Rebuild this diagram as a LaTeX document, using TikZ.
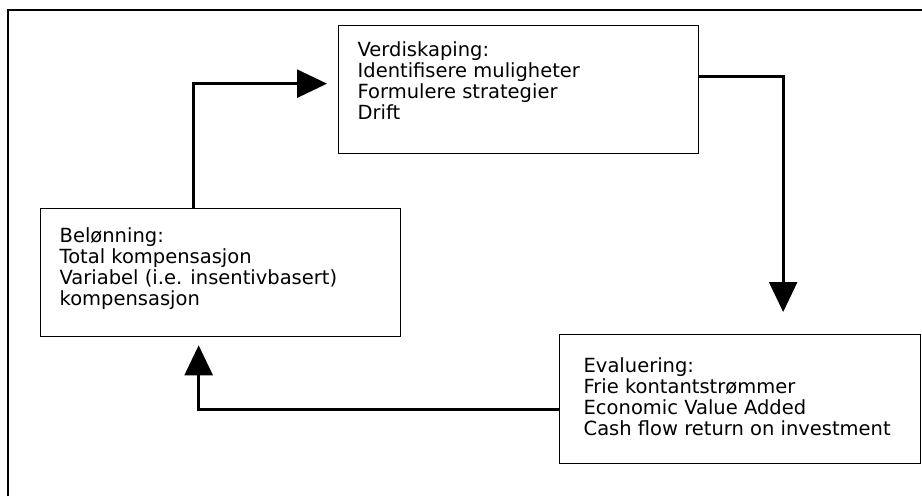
\documentclass[tikz,border=0pt]{standalone}
\usepackage{fontspec}
\setmainfont{DejaVu Sans}
\usetikzlibrary{arrows.meta}
\tikzset{
  box/.style={draw, line width=1.3pt, anchor=north west, font=\fontsize{19.5}{21}\selectfont},
  flow/.style={line width=2.7pt, -{Triangle[length=30pt,width=28pt]}}
}
\begin{document}
\begin{tikzpicture}[x=1pt,y=-1pt]
\useasboundingbox (0,0) rectangle (922,496);
\draw[line width=2.7pt] (8,496) |- (922,10);
\node[box, inner xsep=19pt, inner ysep=16pt] (verdi) at (338,25)
  {\parbox[c][96pt][t]{322pt}{Verdiskaping:\\Identifisere muligheter\\Formulere strategier\\Drift}};
\node[box, inner xsep=19pt, inner ysep=19pt] (belon) at (40,208)
  {\parbox[c][90pt][t]{322pt}{Belønning:\\Total kompensasjon\\Variabel (i.e. insentivbasert)\\kompensasjon}};
\node[box, inner xsep=24pt, inner ysep=23pt] (evalu) at (559,334)
  {\parbox[c][83pt][t]{313pt}{Evaluering:\\Frie kontantstrømmer\\Economic Value Added\\Cash flow return on investment}};
\draw[flow] ([xshift=-27pt]belon.north) |- ([xshift=-11pt,yshift=6pt]verdi.west);
\draw[flow] ([yshift=13pt]verdi.east) -| ([xshift=43pt,yshift=22pt]evalu.north);
\draw[flow] ([yshift=-10.5pt]evalu.west) -| ([xshift=-22pt,yshift=-8pt]belon.south);
\end{tikzpicture}
\end{document}
